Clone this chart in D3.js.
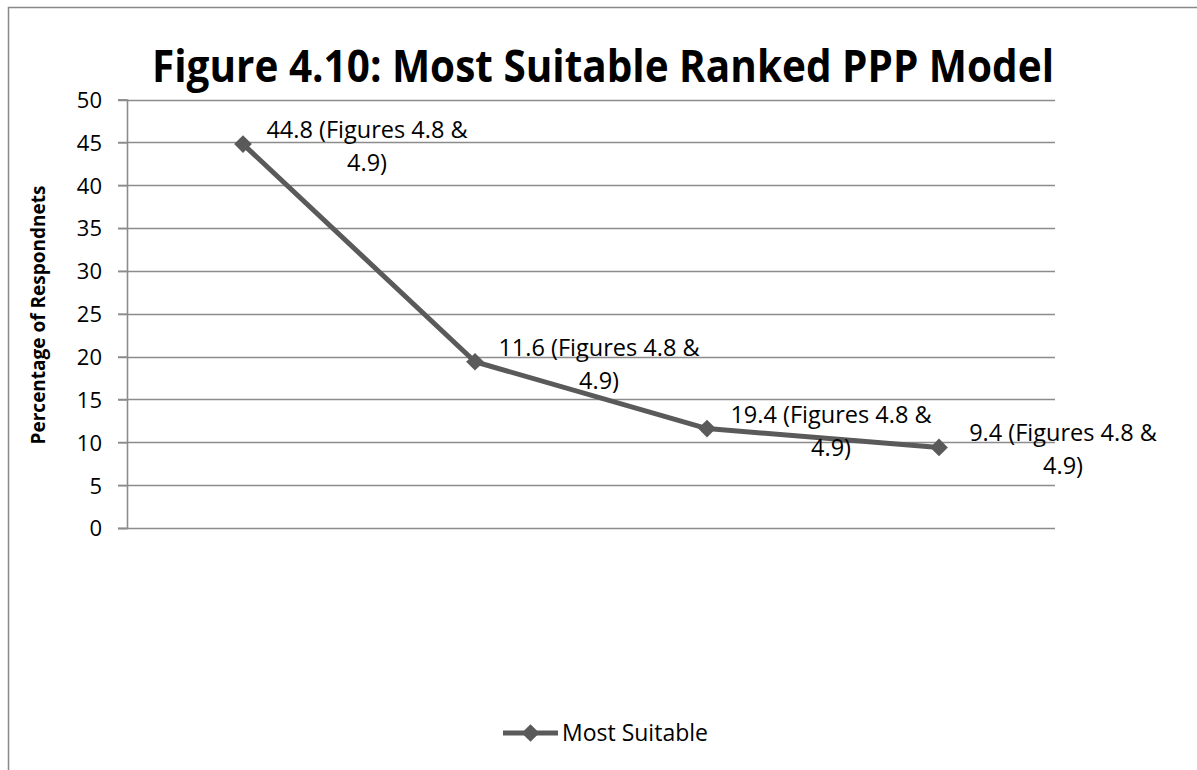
<!DOCTYPE html>
<html>
<head>
<meta charset="utf-8">
<script src="https://cdn.jsdelivr.net/npm/d3@7"></script>
<style>
  body { margin: 0; background: #fff; }
  text { font-family: "Open Sans", sans-serif; fill: #000; }
</style>
</head>
<body>
<script>
var categories = ['1', '2', '3', '4'];
var values = [44.8, 19.4, 11.6, 9.4];
var labelValues = ['44.8', '11.6', '19.4', '9.4'];
var yTicks = [0, 5, 10, 15, 20, 25, 30, 35, 40, 45, 50];
var seriesName = 'Most Suitable';

var width = 1197;
var height = 770;
var lineColor = '#5a5a5a';
var gridColor = '#8c8c8c';

var svg = d3.select('body')
  .append('svg')
  .attr('width', width)
  .attr('height', height);

// outer chart border (only top and left are visible)
svg.append('path')
  .attr('d', 'M8.5,' + height + 'V7.5H' + width)
  .attr('fill', 'none')
  .attr('stroke', '#888')
  .attr('stroke-width', 1.5);

var x = d3.scalePoint()
  .domain(categories)
  .range([127, 1055])
  .padding(0.5);

var y = d3.scaleLinear()
  .domain([0, 50])
  .range([528, 99.5]);

// gridlines
svg.append('g').selectAll('line.grid')
  .data(yTicks)
  .enter().append('line')
  .attr('class', 'grid')
  .attr('x1', 118)
  .attr('x2', 1055)
  .attr('y1', function(d) { return Math.round(y(d)) + 0.5; })
  .attr('y2', function(d) { return Math.round(y(d)) + 0.5; })
  .attr('stroke', gridColor)
  .attr('stroke-width', 1.6);

// y axis
var yAxis = svg.append('g')
  .attr('transform', 'translate(127,0)')
  .call(d3.axisLeft(y).tickValues(yTicks).tickSize(9).tickPadding(16));
yAxis.select('.domain').attr('stroke', gridColor).attr('stroke-width', 1.6);
yAxis.selectAll('.tick line').attr('stroke', gridColor).attr('stroke-width', 1.6);
yAxis.selectAll('.tick text')
  .attr('font-family', '"Open Sans", sans-serif')
  .attr('font-size', 22)
  .attr('fill', '#000')
  .attr('dy', '0.36em');

// title
svg.append('text')
  .attr('x', 603)
  .attr('y', 82)
  .attr('text-anchor', 'middle')
  .attr('font-size', 45)
  .attr('font-weight', 'bold')
  .attr('textLength', 902)
  .attr('lengthAdjust', 'spacingAndGlyphs')
  .text('Figure 4.10: Most Suitable Ranked PPP Model');

// y axis title
svg.append('text')
  .attr('transform', 'translate(45,315) rotate(-90)')
  .attr('text-anchor', 'middle')
  .attr('font-size', 19)
  .attr('font-weight', 'bold')
  .text('Percentage of Respondnets');

// series line
var line = d3.line()
  .x(function(d, i) { return x(categories[i]); })
  .y(function(d) { return y(d); });

svg.append('path')
  .datum(values)
  .attr('d', line)
  .attr('fill', 'none')
  .attr('stroke', lineColor)
  .attr('stroke-width', 5)
  .attr('stroke-linejoin', 'round');

var diamond = d3.symbol().type(d3.symbolDiamond2).size(200);

svg.selectAll('path.marker')
  .data(values)
  .enter().append('path')
  .attr('class', 'marker')
  .attr('d', diamond)
  .attr('transform', function(d, i) { return 'translate(' + x(categories[i]) + ',' + y(d) + ')'; })
  .attr('fill', lineColor);

// data labels
var labels = svg.selectAll('text.dlabel')
  .data(values)
  .enter().append('text')
  .attr('class', 'dlabel')
  .attr('text-anchor', 'middle')
  .attr('font-size', 23.5)
  .attr('transform', function(d, i) { return 'translate(' + (x(categories[i]) + 124) + ',' + y(d) + ')'; });

labels.append('tspan')
  .attr('x', 0)
  .attr('y', -6)
  .text(function(d, i) { return labelValues[i] + ' (Figures 4.8 &'; });
labels.append('tspan')
  .attr('x', 0)
  .attr('y', 27)
  .text('4.9)');

// legend
var legend = svg.append('g').attr('transform', 'translate(503,733)');
legend.append('line')
  .attr('x1', 0).attr('x2', 55)
  .attr('y1', 0).attr('y2', 0)
  .attr('stroke', lineColor)
  .attr('stroke-width', 5);
legend.append('path')
  .attr('d', diamond)
  .attr('transform', 'translate(27.5,0)')
  .attr('fill', lineColor);
legend.append('text')
  .attr('x', 59)
  .attr('y', 8)
  .attr('font-size', 23)
  .text(seriesName);
</script>
</body>
</html>
